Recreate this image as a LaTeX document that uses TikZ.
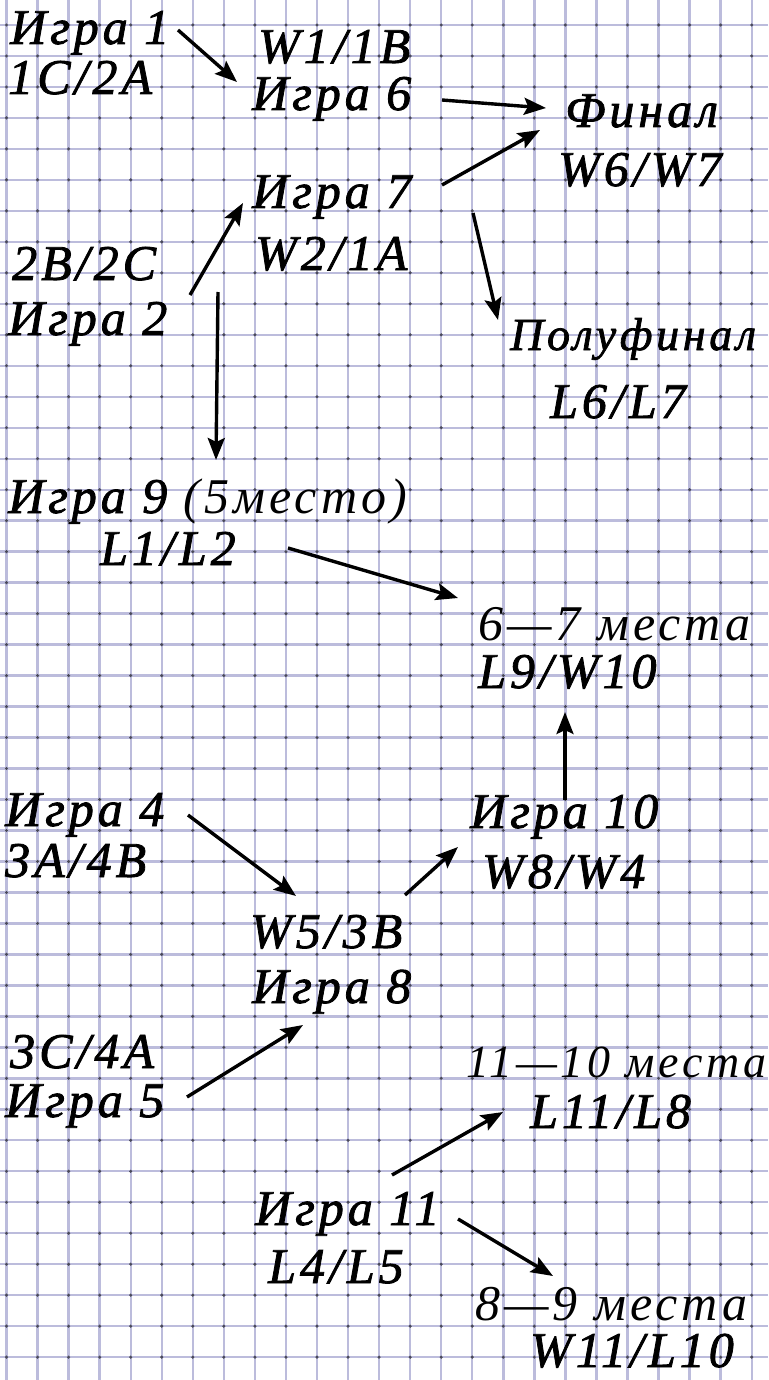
\documentclass[tikz,border=0pt]{standalone}
\usepackage{fontspec}
\usepackage{tikz}
\usetikzlibrary{arrows.meta}
\newfontfamily\hand{Liberation Serif}[UprightFont=* Italic, FakeBold=1.6, LetterSpace=8]
\newfontfamily\handthin{Liberation Serif}[UprightFont=* Italic, LetterSpace=8]
\definecolor{gridline}{HTML}{BCBCDC}
\definecolor{griddot}{HTML}{4A4A5A}

\begin{document}
\begin{tikzpicture}[x=1pt, y=-1pt,
  lbl/.style={anchor=base west, inner sep=0pt, font=\hand\fontsize{50}{56}\selectfont},
  thinlbl/.style={lbl, font=\handthin\fontsize{50}{56}\selectfont},
  narrow/.style={font=\hand\fontsize{46}{52}\selectfont},
  thinnarrow/.style={font=\handthin\fontsize{46}{52}\selectfont},
  gridln/.style={line width=2.4pt, gridline},
  arr/.style={-{Stealth[length=22pt, width=17pt, inset=4pt]}, line width=3.4pt, black}
]
  \useasboundingbox (0,0) rectangle (768,1380);
  \fill[white] (0,0) rectangle (768,1380);
  \foreach \i in {0,...,24}
    \draw[gridln] ({6.5+31.05*\i},0) -- ({6.5+31.05*\i},1380);
  \foreach \j in {0,...,43}
    \draw[gridln] (0,{25+30.98*\j}) -- (768,{25+30.98*\j});
  \foreach \i in {0,...,24}
    \foreach \j in {0,...,43}
      \fill[griddot] ({6.5+31.05*\i},{25+30.98*\j}) circle (1.7pt);

  \node[lbl] (g1) at (10,44) {Игра 1};
  \node[lbl] (s1) at (8,94) {1C/2A};
  \node[lbl] (s6) at (258,63) {W1/1B};
  \node[lbl] (g6) at (252,110) {Игра 6};
  \node[lbl] (fin) at (565,127) {Финал};
  \node[lbl] (sfin) at (558,186) {W6/W7};
  \node[lbl] (g7) at (252,208) {Игра 7};
  \node[lbl] (s7) at (255,270) {W2/1A};
  \node[lbl] (s2) at (12,280) {2B/2C};
  \node[lbl] (g2) at (8,335) {Игра 2};
  \node[lbl, narrow] (semi) at (510,350) {Полуфинал};
  \node[lbl] (ssemi) at (550,418) {L6/L7};
  \node[lbl] (g9) at (8,513) {Игра 9 {\handthin(5место)}};
  \node[lbl] (s9) at (100,565) {L1/L2};
  \node[thinlbl] (p67) at (478,640) {6—7 места};
  \node[lbl] (s67) at (478,688) {L9/W10};
  \node[lbl] (g4) at (5,826) {Игра 4};
  \node[lbl] (s4) at (5,877) {3A/4B};
  \node[lbl] (g10) at (470,828) {Игра 10};
  \node[lbl] (s10) at (482,888) {W8/W4};
  \node[lbl] (s8) at (250,948) {W5/3B};
  \node[lbl] (g8) at (252,1003) {Игра 8};
  \node[lbl] (s5) at (10,1068) {3C/4A};
  \node[lbl] (g5) at (5,1117) {Игра 5};
  \node[lbl, thinnarrow] (p1110) at (466,1077) {11—10 места};
  \node[lbl] (s1110) at (530,1128) {L11/L8};
  \node[lbl] (g11) at (255,1225) {Игра 11};
  \node[lbl] (s11) at (268,1283) {L4/L5};
  \node[thinlbl] (p89) at (475,1320) {8—9 места};
  \node[lbl] (s89) at (530,1367) {W11/L10};

  \draw[arr] ([shift={(168,-14)}]g1.base west) -- ([shift={(-15,-28)}]g6.base west);
  \draw[arr] ([shift={(190,-10)}]g6.base west) -- ([shift={(-19,-19)}]fin.base west);
  \draw[arr] ([shift={(190,-23)}]g7.base west) -- ([shift={(-25,3)}]fin.base west);
  \draw[arr] ([shift={(182,-40)}]g2.base west) -- ([shift={(-9,-5)}]g7.base west);
  \draw[arr] ([shift={(210,-43)}]g2.base west) -- ([shift={(208,-53)}]g9.base west);
  \draw[arr] ([shift={(221,5)}]g7.base west) -- ([shift={(-12,-30)}]semi.base west);
  \draw[arr] ([shift={(188,-17)}]s9.base west) -- ([shift={(-20,-42)}]p67.base west);
  \draw[arr] ([shift={(95,-28)}]g10.base west) -- ([shift={(87,24)}]s67.base west);
  \draw[arr] ([shift={(183,-11)}]g4.base west) -- ([shift={(46,-52)}]s8.base west);
  \draw[arr] ([shift={(155,-53)}]s8.base west) -- ([shift={(-12,19)}]g10.base west);
  \draw[arr] ([shift={(182,-20)}]g5.base west) -- ([shift={(51,22)}]g8.base west);
  \draw[arr] ([shift={(137,-50)}]g11.base west) -- ([shift={(-27,-16)}]s1110.base west);
  \draw[arr] ([shift={(203,-6)}]g11.base west) -- ([shift={(78,-44)}]p89.base west);
\end{tikzpicture}
\end{document}
